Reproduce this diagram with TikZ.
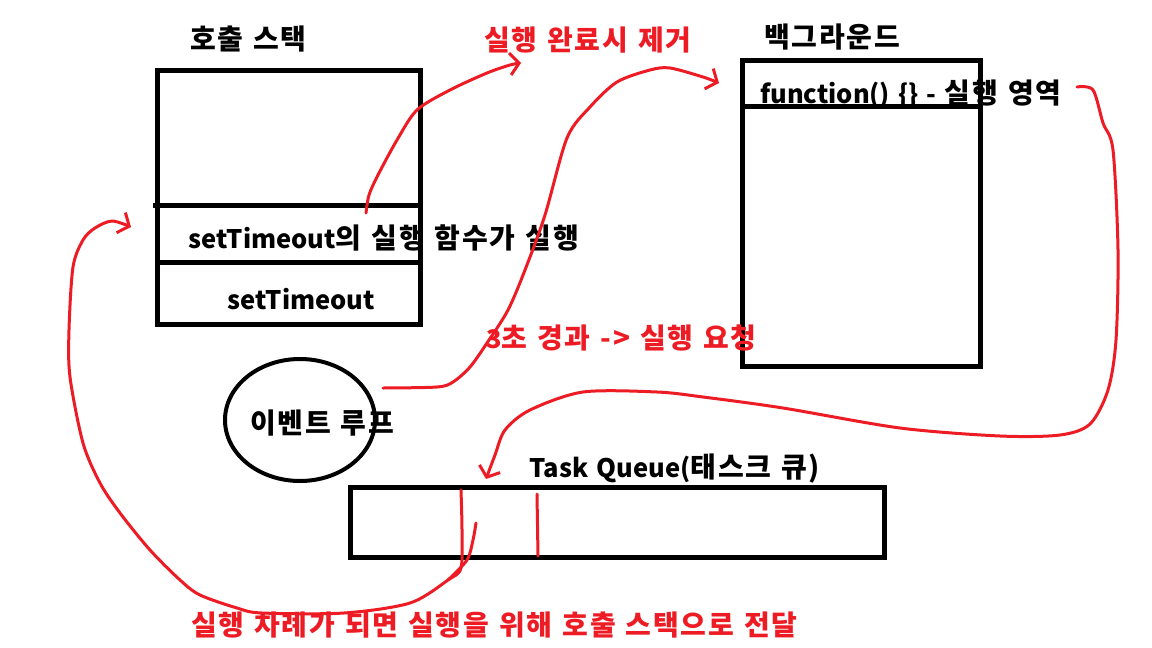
\documentclass[tikz,border=0pt]{standalone}
\usepackage{fontspec}
\setmainfont{Noto Sans CJK KR}[WordSpace=1.4]
\newfontfamily\kr{Noto Sans CJK KR}[Scale=1.098,LetterSpace=6.5,WordSpace=1.2]
\usetikzlibrary{arrows.meta,shapes.geometric}
\definecolor{paintred}{RGB}{237,28,36}
\tikzset{
  box/.style={draw,line width=5pt,inner sep=0pt},
  txt/.style={anchor=west,inner sep=0pt,font=\fontsize{25.5}{30}\selectfont\bfseries},
  redtxt/.style={txt,text=paintred},
  hand/.style={draw=paintred,line width=3pt,line cap=round,line join=round},
  handarrow/.style={hand,-{Straight Barb[length=9pt,width=22pt]}}
}

\begin{document}
\begin{tikzpicture}[x=1pt,y=-1pt]
  \useasboundingbox (0,0) rectangle (1152,648);
  % call stack
  \node[box,minimum width=263,minimum height=254] (stack) at (288.5,197) {};
  \draw[line width=5pt] (153,205) -- (420,205);
  \draw[line width=5pt] (157,262) -- (422,262);
  \node[txt] (stacktitle) at (190,39) {\kr 호출 스택};
  \node[txt] (cbrun) at (188,238) {setTimeout\kr{의 실행 함수가 실행}};
  \node[txt] (settimeout) at (227,299) {setTimeout};
  % background
  \node[box,minimum width=238,minimum height=306] (bg) at (861,213) {};
  \draw[line width=5pt] (742,106) -- (978,106);
  \node[txt] (bgtitle) at (764,37) {\kr 백그라운드};
  \node[txt] (fnarea) at (760,94) {function() \{\} - \kr{실행 영역}};
  % event loop
  \node[draw,ellipse,line width=4pt,minimum width=150,minimum height=122] (loop) at (300,420) {};
  \node[txt] (looptext) at (250,423) {\kr 이벤트 루프};
  % task queue
  \node[box,minimum width=534,minimum height=70] (queue) at (617,522) {};
  \node[txt] (queuetitle) at (529,469) {Task Queue(\kr{태스크 큐})};
  % red notes
  \node[redtxt] (donetext) at (484,40) {\kr 실행 완료시 제거};
  \node[redtxt] (reqtext) at (486,338) {3\kr{초 경과} -> \kr{실행 요청}};
  \node[redtxt] (passtext) at (191,625) {\kr 실행 차례가 되면 실행을 위해 호출 스택으로 전달};
  % hand drawn arrows
  \coordinate (doneA) at (366,213);
  \coordinate (doneB) at (521,63);
  \coordinate (reqA) at (383,388);
  \coordinate (reqB) at (719,83);
  \coordinate (fnA) at (1077,87);
  \coordinate (fnB) at (486,479);
  \coordinate (passA) at (461,490);
  \coordinate (passB) at (131,227);
  \draw[handarrow] plot[smooth,tension=0.5] coordinates {(doneA) (369,195) (378,175) (397,140)
    (417,110) (450,90) (487,73) (510,65) (doneB)};
  \draw[handarrow] plot[smooth,tension=0.5] coordinates {(reqA) (437,387) (453,382) (470,367)
    (487,343) (508,310) (525,270) (545,215) (567,138) (590,107) (617,82) (650,70) (670,68)
    (703,77) (reqB)};
  \draw[handarrow] plot[smooth,tension=0.5] coordinates {(fnA) (1093,90) (1103,123) (1113,150)
    (1118,250) (1116,340) (1108,390) (1090,424) (1060,435) (1000,436) (900,428) (783,408)
    (703,397) (657,392) (583,392) (530,410) (505,430) (495,455) (fnB)};
  \draw[handarrow] plot[smooth,tension=0.5] coordinates {(passA) (462,530) (461,568) (448,580)
    (410,603) (344,613) (262,613) (237,608) (200,595) (180,580) (150,550) (120,513) (100,483)
    (83,443) (70,377) (69,330) (73,267) (83,240) (95,228) (112,221) (passB)};
  \draw[hand] plot[smooth,tension=0.5] coordinates {(476,523) (473,540) (467,560) (448,580)};
  \draw[hand] (537,494) -- (538,556);
\end{tikzpicture}
\end{document}
